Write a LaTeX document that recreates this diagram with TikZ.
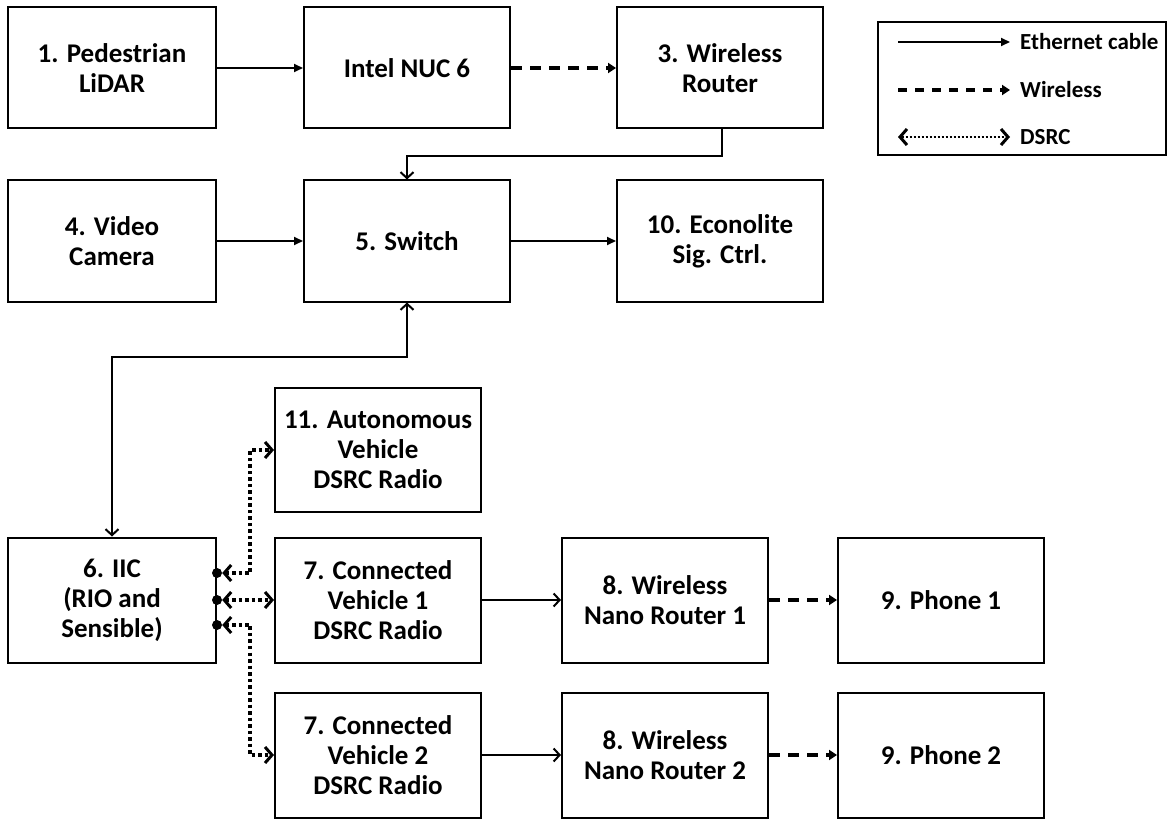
\documentclass[tikz,border=0pt]{standalone}
\usepackage{fontspec}
\setmainfont{Carlito}
\usetikzlibrary{arrows.meta,calc}
\begin{document}
\begin{tikzpicture}[x=1pt,y=-1pt,
  box/.style={draw,line width=2pt,minimum width=206pt,minimum height=121pt,align=center,
    font=\fontsize{27}{30}\selectfont\bfseries,inner sep=0pt},
  eth/.style={line width=2pt,-{Triangle[length=9pt,width=8pt]}},
  etho/.style={line width=2pt,-{Straight Barb[length=6pt,width=13pt,line width=2pt]}},
  ethoo/.style={line width=2pt,{Straight Barb[length=6pt,width=13pt,line width=2pt]}-{Straight Barb[length=6pt,width=13pt,line width=2pt]}},
  wl/.style={line width=4pt,dash pattern=on 11pt off 8pt,-{Triangle[length=8pt,width=10pt]}},
  dsrc/.style={line width=3.5pt,dash pattern=on 3.5pt off 3pt,
    {Straight Barb[length=7pt,width=16pt,line width=3pt]}-{Straight Barb[length=7pt,width=16pt,line width=3pt]}},
  legtxt/.style={anchor=west,font=\fontsize{23}{26}\selectfont\bfseries,inner sep=0pt},
  dotn/.style={circle,fill,inner sep=0pt,minimum size=10pt}]
\useasboundingbox (0,0) rectangle (1169,821);
% boxes
\node[box,minimum width=208pt] (n1) at (112,68) {1. Pedestrian\\LiDAR};
\node[box] (nuc) at (407,68) {Intel NUC 6};
\node[box] (n3) at (720,68) {3. Wireless\\Router};
\node[box,minimum width=208pt] (n4) at (112,241) {4. Video\\Camera};
\node[box] (n5) at (407,241) {5. Switch};
\node[box] (n10) at (720,241) {10. Econolite\\Sig. Ctrl.};
\node[box,minimum height=124pt] (n11) at (378,450) {11. Autonomous\\Vehicle\\DSRC Radio};
\node[box,minimum width=208pt,minimum height=125pt] (n6) at (112,600) {6. IIC\\(RIO and\\Sensible)};
\node[box,minimum height=125pt] (n7a) at (378,600) {7. Connected\\Vehicle 1\\DSRC Radio};
\node[box,minimum height=125pt] (n8a) at (665,600) {8. Wireless\\Nano Router 1};
\node[box,minimum height=125pt] (n9a) at (941,600) {9. Phone 1};
\node[box,minimum height=125pt] (n7b) at (378,755) {7. Connected\\Vehicle 2\\DSRC Radio};
\node[box,minimum height=125pt] (n8b) at (665,755) {8. Wireless\\Nano Router 2};
\node[box,minimum height=125pt] (n9b) at (941,755) {9. Phone 2};
% connectors
\draw[eth] (n1) -- (nuc);
\draw[wl] (nuc) -- (n3);
\draw[etho] ([xshift=2pt]n3.south) -- ++(0,27) -| (n5.north);
\draw[eth] (n4) -- (n5);
\draw[eth] (n5) -- (n10);
\draw[ethoo] (n5.south) -- ++(0,54) -| (n6.north);
\coordinate (d1) at ([yshift=27pt]n6.east);
\coordinate (d2) at (n6.east);
\coordinate (d3) at ([yshift=-25pt]n6.east);
\node[dotn] (dot1) at (d1) {};
\node[dotn] (dot2) at (d2) {};
\node[dotn] (dot3) at (d3) {};
\draw[dsrc] (dot1.east) -- ++(28,0) |- (n11.west);
\draw[dsrc] (dot2.east) -- (n7a.west);
\draw[dsrc] (dot3.east) -- ++(28,0) |- (n7b.west);
\draw[etho] (n7a) -- (n8a);
\draw[wl] (n8a) -- (n9a);
\draw[etho] (n7b) -- (n8b);
\draw[wl] (n8b) -- (n9b);
% legend
\node[draw,line width=2pt,minimum width=288pt,minimum height=133pt,inner sep=0pt] (leg) at (1022,88.5) {};
\node[legtxt] (t1) at (1020,42) {Ethernet cable};
\node[legtxt] (t2) at (1020,90) {Wireless};
\node[legtxt] (t3) at (1020,137) {DSRC};
\coordinate (l1) at (898,42);
\coordinate (l2) at (898,90);
\coordinate (l3) at (898,137);
\draw[eth,line width=1.8pt] (l1) -- ([xshift=-10pt]t1.west);
\draw[wl,line width=3.5pt,dash pattern=on 9pt off 8pt] (l2) -- ([xshift=-10pt]t2.west);
\draw[dsrc,line width=2.2pt,dash pattern=on 2pt off 2pt] (l3) -- ([xshift=-10pt]t3.west);
\end{tikzpicture}
\end{document}
